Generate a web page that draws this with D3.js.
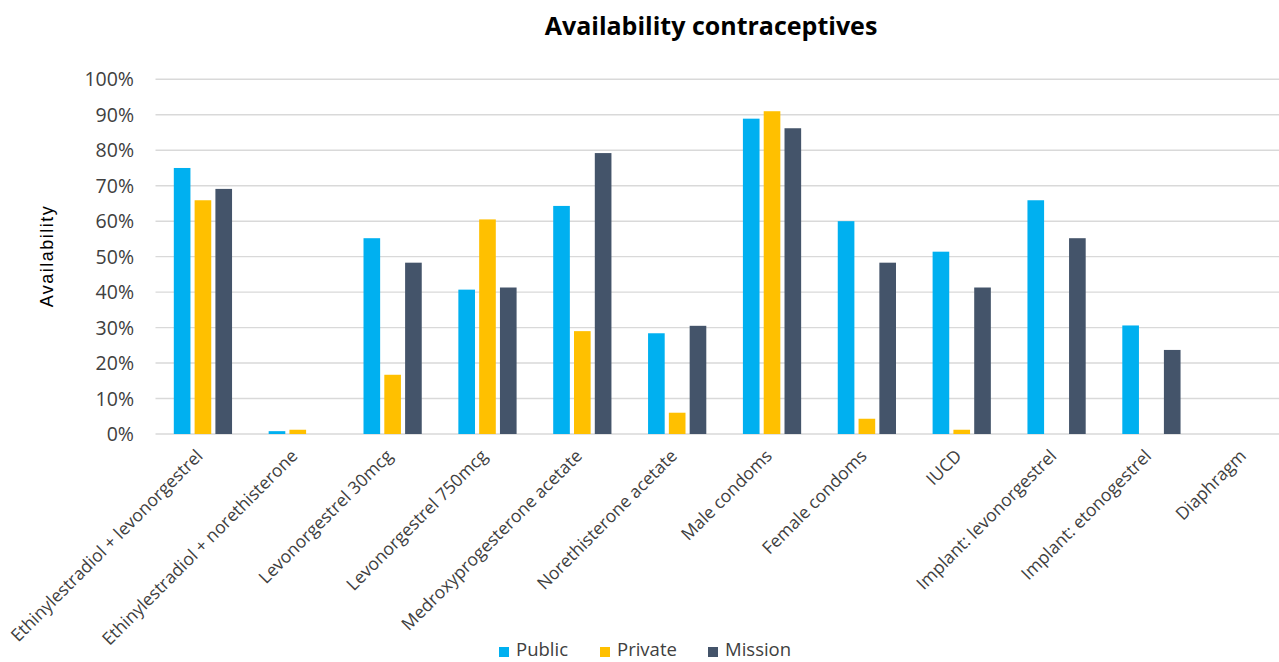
<!DOCTYPE html>
<html><head><meta charset="utf-8">
<script src="https://cdn.jsdelivr.net/npm/d3@7"></script>
<style>
html,body{margin:0;padding:0;background:#fff;}
svg{display:block;font-family:"Open Sans",sans-serif;}
</style></head>
<body>
<svg id="chart" width="1279" height="662"></svg>
<script>
const categories = ["Ethinylestradiol + levonorgestrel","Ethinylestradiol + norethisterone","Levonorgestrel 30mcg","Levonorgestrel 750mcg","Medroxyprogesterone acetate","Norethisterone acetate","Male condoms","Female condoms","IUCD","Implant: levonorgestrel","Implant: etonogestrel","Diaphragm"];
const seriesNames = ["Public","Private","Mission"];
const publicVals  = [0.75,0.008,0.552,0.407,0.643,0.284,0.889,0.600,0.514,0.659,0.306,0];
const privateVals = [0.659,0.012,0.167,0.605,0.290,0.060,0.910,0.043,0.012,0,0,0];
const missionVals = [0.691,0,0.483,0.413,0.792,0.305,0.862,0.483,0.413,0.552,0.237,0];
const yTicks = [0,0.1,0.2,0.3,0.4,0.5,0.6,0.7,0.8,0.9,1.0];
const colors = ["#00B0F0","#FFC000","#44546A"];
const title = "Availability contraceptives";
const yTitle = "Availability";

const svg = d3.select("#chart");
const x0 = 155.5, x1 = 1293.7, yBase = 434, yTop = 79.3;

const x = d3.scaleBand().domain(categories).range([x0, x1]).paddingInner(0).paddingOuter(0);
const xs = d3.scaleBand().domain(seriesNames).range([-29.12, 29.12]).paddingInner(0.2).paddingOuter(0);
const y = d3.scaleLinear().domain([0,1]).range([yBase, yTop]);

// gridlines
svg.append("g").selectAll("line").data(yTicks).join("line")
  .attr("x1", x0).attr("x2", 1279)
  .attr("y1", d => y(d)).attr("y2", d => y(d))
  .attr("stroke", "#D9D9D9").attr("stroke-width", 1.4);

// y axis labels
const yAxis = d3.axisLeft(y).tickValues(yTicks).tickFormat(d3.format(".0%")).tickSize(0).tickPadding(0);
const ya = svg.append("g").attr("transform", "translate(134,0)").call(yAxis);
ya.select(".domain").remove();
ya.selectAll("text").attr("font-size", 19.5).attr("fill", "#404040").attr("font-family", "Open Sans, sans-serif").attr("dy", "0.34em");

// bars
const seriesData = [publicVals, privateVals, missionVals];
seriesNames.forEach((s, j) => {
  svg.append("g").selectAll("rect").data(seriesData[j]).join("rect")
    .attr("x", (d, i) => x(categories[i]) + x.bandwidth()/2 + xs(s))
    .attr("width", xs.bandwidth())
    .attr("y", d => y(d))
    .attr("height", d => yBase - y(d))
    .attr("fill", colors[j]);
});

// x labels
const xl = svg.append("g");
categories.forEach(c => {
  const cx = x(c) + x.bandwidth()/2;
  xl.append("text")
    .attr("transform", `translate(${cx+1},${yBase+23}) rotate(-45)`)
    .attr("text-anchor", "end")
    .attr("font-size", 17.5).attr("fill", "#404040")
    .text(c);
});

// title
svg.append("text").attr("x", 711).attr("y", 35).attr("text-anchor", "middle")
  .attr("font-size", 25).attr("font-weight", "bold").attr("fill", "#000").text(title);

// y title
svg.append("text").attr("transform", "translate(53,256) rotate(-90)")
  .attr("text-anchor", "middle").attr("font-size", 18).attr("fill", "#000")
  .attr("font-family", "Liberation Sans, Arial, sans-serif")
  .attr("letter-spacing", 1.5).text(yTitle);

// legend
const lg = svg.append("g");
const legX = [499, 600, 708];
seriesNames.forEach((s, j) => {
  lg.append("rect").attr("x", legX[j]).attr("y", 647).attr("width", 10).attr("height", 10).attr("fill", colors[j]);
  lg.append("text").attr("x", legX[j] + 17).attr("y", 656).attr("font-size", 18.5).attr("fill", "#404040").text(s);
});
</script>
</body></html>
